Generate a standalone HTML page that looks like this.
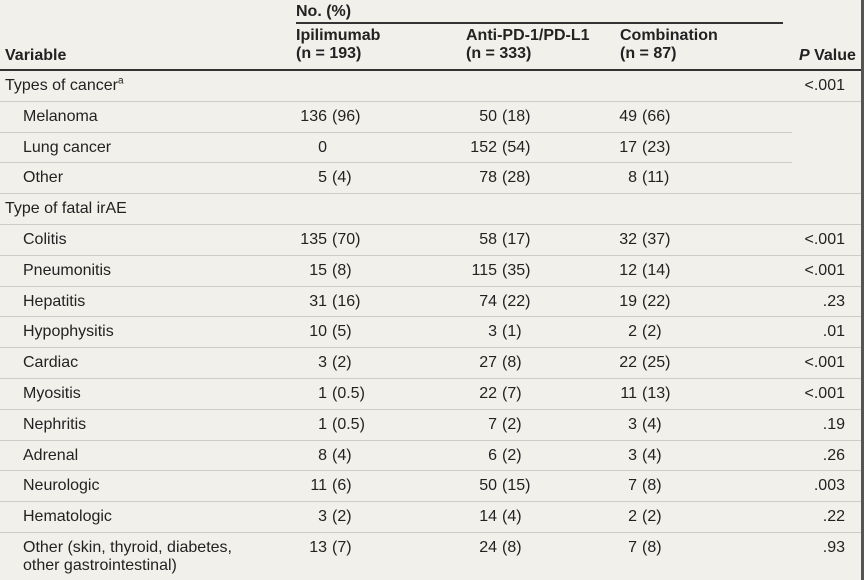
<!DOCTYPE html>
<html><head><meta charset="utf-8"><style>
html,body{margin:0;padding:0;}
body{width:864px;height:580px;background:#f2f0eb;position:relative;overflow:hidden;font-family:"Liberation Sans",sans-serif;font-size:16px;color:#222;}
.t{position:absolute;white-space:nowrap;line-height:18px;}
.b{font-weight:bold;}
.r{text-align:right;}
.ln{position:absolute;height:1px;background:#cfccc5;}
</style></head><body>
<div class="t b" style="left:296px;top:3px">No. (%)</div>
<div class="ln" style="left:296px;top:22px;width:487px;height:1.5px;background:#333"></div>
<div class="t b" style="left:5px;top:47px">Variable</div>
<div class="t b" style="left:296px;top:27px">Ipilimumab<br>(n = 193)</div>
<div class="t b" style="left:466px;top:27px">Anti-PD-1/PD-L1<br>(n = 333)</div>
<div class="t b" style="left:620px;top:27px">Combination<br>(n = 87)</div>
<div class="t b" style="left:799px;top:47px"><i>P</i> Value</div>
<div class="ln" style="left:0;top:69px;width:864px;height:2px;background:#333"></div>
<div style="position:absolute;left:861px;top:0;width:3px;height:580px;background:#555"></div>
<div id="rows"></div>
<script>
const labels=["Types of cancer","Melanoma","Lung cancer","Other","Type of fatal irAE","Colitis","Pneumonitis","Hepatitis","Hypophysitis","Cardiac","Myositis","Nephritis","Adrenal","Neurologic","Hematologic","Other (skin, thyroid, diabetes,|other gastrointestinal)"];
const indent=[0,1,1,1,0,1,1,1,1,1,1,1,1,1,1,1];
const ipi=["","136 (96)","0","5 (4)","","135 (70)","15 (8)","31 (16)","10 (5)","3 (2)","1 (0.5)","1 (0.5)","8 (4)","11 (6)","3 (2)","13 (7)"];
const anti=["","50 (18)","152 (54)","78 (28)","","58 (17)","115 (35)","74 (22)","3 (1)","27 (8)","22 (7)","7 (2)","6 (2)","50 (15)","14 (4)","24 (8)"];
const combo=["","49 (66)","17 (23)","8 (11)","","32 (37)","12 (14)","19 (22)","2 (2)","22 (25)","11 (13)","3 (4)","3 (4)","7 (8)","2 (2)","7 (8)"];
const pval=["<.001","","","","","<.001","<.001",".23",".01","<.001","<.001",".19",".26",".003",".22",".93"];
const root=document.getElementById('rows');
const top0=71,rh=30.8;
function cell(txt,intRight,y,name){
  if(!txt)return;
  const m=txt.match(/^(\S+)\s*(.*)$/);
  const a=document.createElement('div');a.className='t r';
  a.style.left=(intRight-60)+'px';a.style.width='60px';a.style.top=y+'px';
  a.textContent=m[1];
  
  
  root.appendChild(a);
  if(m[2]){const b=document.createElement('div');b.className='t';b.style.left=(intRight+5)+'px';b.style.top=y+'px';b.textContent=m[2];
  
  
  root.appendChild(b);}
}
labels.forEach((lab,i)=>{
  const y=top0+i*rh+6;
  const d=document.createElement('div');d.className='t';d.style.left=(indent[i]?23:5)+'px';d.style.top=y+'px';
  d.innerHTML=lab.replace('|','<br>')+(i===0?'<sup style="font-size:10px;line-height:0">a</sup>':'');
  
  
  root.appendChild(d);
  cell(ipi[i],327,y,'ipilimumab');
  cell(anti[i],497,y,'anti-pd1');
  cell(combo[i],637,y,'combination');
  if(pval[i]){const p=document.createElement('div');p.className='t r';p.style.left='780px';p.style.width='65px';p.style.top=y+'px';p.textContent=pval[i];
  
  
  root.appendChild(p);}
  if(i<labels.length-1){
    const l=document.createElement('div');l.className='ln';l.style.top=Math.round(top0+(i+1)*rh-1)+'px';l.style.left='0';
    l.style.width=(i===1||i===2?792:861)+'px';
    
    
    root.appendChild(l);
  }
});
</script>
</body></html>
